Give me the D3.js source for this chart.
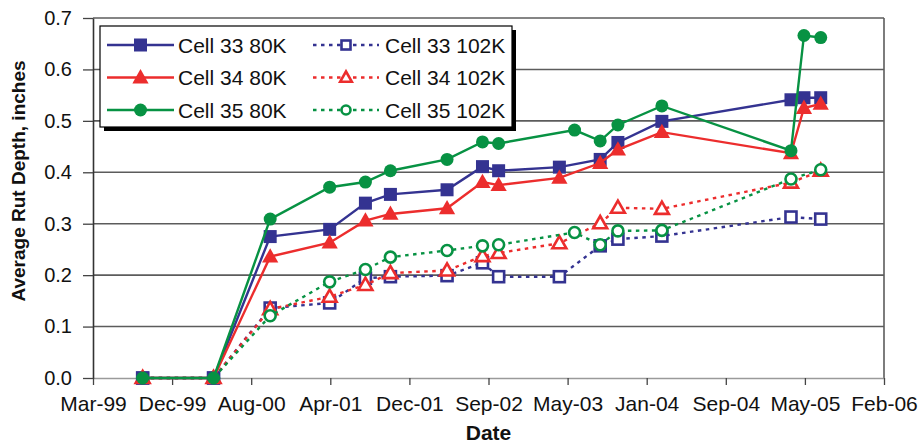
<!DOCTYPE html>
<html lang="en">
<head>
  <meta charset="utf-8">
  <script src="https://cdn.jsdelivr.net/npm/d3@7/dist/d3.min.js"></script>
  <style>
    body {
      margin: 0;
      background: #fff;
      font-family: "Liberation Sans", Arial, Helvetica, sans-serif;
    }
    .grid line {
      stroke: #5c5c5c;
      stroke-width: 1.6;
    }
    .axis text {
      font-family: "Liberation Sans", Arial, sans-serif;
      fill: #111;
    }
    .legend text {
      font-size: 21px;
      fill: #111;
    }
  </style>
</head>
<body>
  <svg id="chart" width="922" height="447"></svg>
  <script>
    // dates for cells 33 and 34 (cell 35 was measured a bit later once, in 2003)
    var dates3334 = ["1999-09-04", "2000-04-15", "2000-10-11", "2001-04-17", "2001-08-08", "2001-10-26",
                     "2002-04-23", "2002-08-13", "2002-10-03", "2003-04-13", "2003-08-20", "2003-10-15",
                     "2004-03-02", "2005-04-14", "2005-05-25", "2005-07-17"];
    var dates35 = ["1999-09-04", "2000-04-15", "2000-10-11", "2001-04-17", "2001-08-08", "2001-10-26",
                   "2002-04-23", "2002-08-13", "2002-10-03", "2003-05-31", "2003-08-20", "2003-10-15",
                   "2004-03-02", "2005-04-14", "2005-05-25", "2005-07-17"];

    var cell33_80 = [0, 0, 0.275, 0.289, 0.340, 0.357, 0.366, 0.411, 0.403, 0.410, 0.425, 0.458, 0.499, 0.541, 0.545, 0.545];
    var cell34_80 = [0, 0, 0.236, 0.263, 0.306, 0.319, 0.330, 0.381, 0.375, 0.389, 0.418, 0.444, 0.478, 0.437, 0.525, 0.533];
    var cell35_80 = [0, 0, 0.309, 0.371, 0.381, 0.403, 0.425, 0.459, 0.456, 0.482, 0.461, 0.492, 0.529, 0.442, 0.666, 0.662];
    var cell33_102 = [0, 0, 0.136, 0.146, 0.194, 0.197, 0.199, 0.224, 0.197, 0.197, 0.257, 0.270, 0.276, 0.313, null, 0.309];
    var cell34_102 = [0, 0, 0.134, 0.158, 0.181, 0.204, 0.209, 0.237, 0.243, 0.262, 0.301, 0.331, 0.329, 0.380, null, 0.403];
    var cell35_102 = [0, 0, 0.121, 0.187, 0.211, 0.235, 0.248, 0.257, 0.259, 0.283, 0.259, 0.286, 0.287, 0.387, null, 0.405];

    var yTicks = [0, 0.1, 0.2, 0.3, 0.4, 0.5, 0.6, 0.7];
    // excel date axis: starts 31 Mar 1999, major unit 250 days
    var xStart = "1999-03-31", xStepDays = 250, xTickCount = 11;

    var blue = "#343391", red = "#ec2d2d", green = "#079243";

    var series = [
      {name: "Cell 33 102K", dates: dates3334, values: cell33_102, color: blue, marker: "square", open: true},
      {name: "Cell 34 102K", dates: dates3334, values: cell34_102, color: red, marker: "triangle", open: true},
      {name: "Cell 35 102K", dates: dates35, values: cell35_102, color: green, marker: "circle", open: true},
      {name: "Cell 33 80K", dates: dates3334, values: cell33_80, color: blue, marker: "square", open: false},
      {name: "Cell 34 80K", dates: dates3334, values: cell34_80, color: red, marker: "triangle", open: false},
      {name: "Cell 35 80K", dates: dates35, values: cell35_80, color: green, marker: "circle", open: false}
    ];

    var svg = d3.select("#chart");
    var plotL = 93, plotR = 884, plotT = 18, plotB = 378;
    var parse = d3.utcParse("%Y-%m-%d");
    var t0 = parse(xStart);
    var xTickVals = d3.range(xTickCount).map(function(i) { return d3.utcDay.offset(t0, i * xStepDays); });

    var x = d3.scaleUtc()
        .domain([t0, xTickVals[xTickVals.length - 1]])
        .range([plotL, plotR]);
    var y = d3.scaleLinear()
        .domain([0, 0.7])
        .range([plotB, plotT]);

    // gridlines
    svg.append("g").attr("class", "grid")
      .selectAll("line")
      .data(yTicks.filter(function(d) { return d > 0; }))
      .enter().append("line")
        .attr("x1", plotL).attr("x2", plotR)
        .attr("y1", function(d) { return y(d); })
        .attr("y2", function(d) { return y(d); });

    svg.append("line")
      .attr("x1", plotR).attr("x2", plotR).attr("y1", plotT).attr("y2", plotB)
      .attr("stroke", "#5c5c5c").attr("stroke-width", 1.6);

    // axes
    var xAxis = svg.append("g").attr("class", "axis")
      .attr("transform", "translate(0," + plotB + ")")
      .call(d3.axisBottom(x).tickValues(xTickVals).tickFormat(d3.utcFormat("%b-%y"))
        .tickSize(7).tickSizeOuter(0).tickPadding(11));
    xAxis.select(".domain").attr("stroke", "#9a9a9a").attr("stroke-width", 1.6);
    xAxis.selectAll(".tick line").attr("stroke", "#444").attr("stroke-width", 1.3);
    xAxis.selectAll("text").style("font-size", "21px");

    var yAxis = svg.append("g").attr("class", "axis")
      .attr("transform", "translate(" + plotL + ",0)")
      .call(d3.axisLeft(y).tickValues(yTicks).tickFormat(d3.format(".1f"))
        .tickSize(10).tickSizeOuter(0).tickPadding(11));
    yAxis.select(".domain").attr("stroke", "#333").attr("stroke-width", 1.6);
    yAxis.selectAll(".tick line").attr("stroke", "#444").attr("stroke-width", 1.3);
    yAxis.selectAll("text").style("font-size", "20px");

    svg.append("text")
      .attr("transform", "translate(18,181) rotate(-90)")
      .attr("text-anchor", "middle")
      .attr("dominant-baseline", "central")
      .style("font-size", "19px").style("font-weight", "bold").style("fill", "#111")
      .text("Average Rut Depth, inches");

    svg.append("text")
      .attr("x", (plotL + plotR) / 2).attr("y", 440)
      .attr("text-anchor", "middle")
      .style("font-size", "21px").style("font-weight", "bold").style("fill", "#111")
      .text("Date");

    // markers
    function drawMarker(g, s, cx, cy, size) {
      var fill = s.open ? "#fff" : s.color;
      var sw = s.open ? 2.6 : 0;
      if (s.marker === "square") {
        var a = s.open ? size - 2 : size;
        g.append("rect").attr("x", cx - a / 2).attr("y", cy - a / 2).attr("width", a).attr("height", a)
          .attr("fill", fill).attr("stroke", s.color).attr("stroke-width", sw);
      } else if (s.marker === "triangle") {
        var h = s.open ? size - 1 : size + 1;
        g.append("path")
          .attr("d", "M" + cx + "," + (cy - h * 0.6) + "L" + (cx + h * 0.58) + "," + (cy + h * 0.42) +
            "L" + (cx - h * 0.58) + "," + (cy + h * 0.42) + "Z")
          .attr("fill", fill).attr("stroke", s.color).attr("stroke-width", sw);
      } else {
        var r = s.open ? (size - 2) / 2 : size / 2;
        g.append("circle").attr("cx", cx).attr("cy", cy).attr("r", r)
          .attr("fill", fill).attr("stroke", s.color).attr("stroke-width", sw);
      }
    }

    var line = d3.line()
      .x(function(d) { return x(d.t); })
      .y(function(d) { return y(d.v); });

    series.forEach(function(s) {
      var pts = s.dates.map(function(d, i) { return {t: parse(d), v: s.values[i]}; })
        .filter(function(d) { return d.v != null; });
      var g = svg.append("g");
      g.append("path")
        .datum(pts)
        .attr("d", line)
        .attr("fill", "none")
        .attr("stroke", s.color)
        .attr("stroke-width", 2.4)
        .attr("stroke-dasharray", s.open ? "3.5,4.5" : null);
      pts.forEach(function(p) {
        drawMarker(g, s, x(p.t), y(p.v), 13);
      });
    });

    // legend
    var legendOrder = [
      ["Cell 33 80K", "Cell 33 102K"],
      ["Cell 34 80K", "Cell 34 102K"],
      ["Cell 35 80K", "Cell 35 102K"]
    ];
    var lg = svg.append("g").attr("class", "legend");
    lg.append("rect").attr("x", 104).attr("y", 30).attr("width", 412).attr("height", 101).attr("fill", "#000");
    lg.append("rect").attr("x", 100).attr("y", 26).attr("width", 412).attr("height", 101)
      .attr("fill", "#fff").attr("stroke", "#000").attr("stroke-width", 1.2);
    var colX = [[107, 174, 178], [313, 379, 385]];
    legendOrder.forEach(function(row, ri) {
      row.forEach(function(name, ci) {
        var s = series.filter(function(d) { return d.name === name; })[0];
        var ly = 45 + ri * 32.5;
        var c = colX[ci];
        lg.append("line").attr("x1", c[0]).attr("x2", c[1]).attr("y1", ly).attr("y2", ly)
          .attr("stroke", s.color).attr("stroke-width", 2.4)
          .attr("stroke-dasharray", s.open ? "3.5,4.5" : null);
        drawMarker(lg, s, (c[0] + c[1]) / 2, ly, s.open ? 11 : 13);
        lg.append("text").attr("x", c[2]).attr("y", ly).attr("dy", "0.36em").text(name);
      });
    });
  </script>
</body>
</html>
